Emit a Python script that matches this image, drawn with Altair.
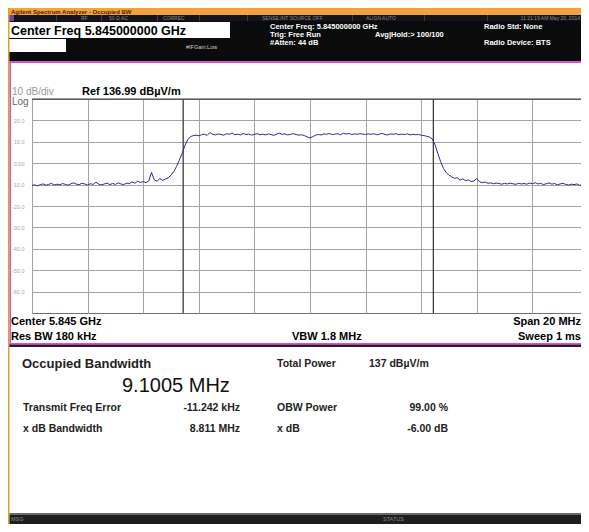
import altair as alt
import pandas as pd

# ---------------- data ----------------
CENTER_GHZ = 5.845
SPAN_MHZ = 20.0
STEP_MHZ = 0.1          # sweep points read every 0.1 MHz

# trace level (dB), 0.0 .. 20.0 MHz from the left edge
levels_db = [
    -10.4, -10.1, -10.6, -10.0, -9.7, -10.3, -9.9, -9.4, -10.2, -9.8,
    -10.1, -9.5, -9.9, -10.3, -9.6, -9.2, -9.8, -10.0, -9.4, -9.7,
    -10.2, -9.6, -9.9, -8.9, -9.8, -10.1, -9.7, -9.3, -10.0, -9.5,
    -9.9, -9.2, -9.7, -10.0, -9.3, -9.6, -8.7, -9.4, -8.4, -9.0,
    -8.6, -9.1, -8.3, -4.3, -7.8, -8.4, -7.2, -8.0, -7.4, -6.8,
    -5.6, -3.9, -1.5, 1.4, 4.6, 8.2, 10.9, 12.4, 12.9, 13.1,
    12.8, 13.3, 13.6, 13.0, 14.3, 13.5, 13.2, 13.7, 13.4, 13.1,
    13.8, 13.5, 14.1, 13.3, 13.6, 13.2, 13.9, 13.4, 13.6, 13.1,
    13.5, 13.8, 13.3, 13.6, 13.2, 13.7, 13.4, 13.0, 13.6, 14.0,
    13.5, 13.7, 13.2, 13.5, 13.8, 13.4, 13.1, 13.3, 12.9, 12.3,
    11.8, 12.4, 13.1, 13.4, 13.2, 13.7, 13.5, 13.9, 13.4, 13.6,
    13.8, 13.3, 14.0, 13.6, 13.9, 13.4, 13.7, 13.5, 13.8, 13.6,
    13.4, 13.7, 13.5, 13.8, 13.3, 13.6, 13.9, 13.4, 13.2, 13.7,
    13.5, 13.8, 13.3, 13.6, 13.4, 13.7, 13.2, 13.5, 13.3, 13.4,
    13.1, 12.9, 12.6, 12.2, 11.3, 8.6, 4.5, 0.8, -2.4, -4.3,
    -5.6, -6.4, -7.1, -6.8, -7.9, -7.3, -8.2, -7.8, -8.6, -8.3,
    -7.2, -8.7, -9.1, -8.8, -9.4, -9.2, -9.6, -9.3, -9.5, -9.8,
    -9.4, -9.7, -9.3, -9.6, -9.9, -9.4, -9.7, -9.5, -9.8, -9.3,
    -9.6, -9.1, -9.7, -9.4, -10.0, -9.6, -9.2, -9.8, -9.5, -10.1,
    -9.7, -9.4, -9.9, -10.2, -9.8, -10.0, -9.7, -10.3, -10.0, -10.5,
    -10.2,
]

x_domain_ghz = [5.835, 5.85475]
x_grid_ghz = [5.835, 5.837, 5.839, 5.841, 5.843, 5.845, 5.847, 5.849, 5.851, 5.853]
y_domain_db = [-70, 30]
y_grid_db = [20, 10, 0, -10, -20, -30, -40, -50, -60]
obw_markers_ghz = [5.8404385, 5.8494390]

title_text = "Agilent Spectrum Analyzer - Occupied BW"
status_texts = ["RF", "50 \u03a9   AC", "CORREC", "SENSE:INT   SOURCE OFF", "ALIGN AUTO"]
time_text = "11:21:19 AM May 20, 2014"
center_freq_box = "Center Freq 5.845000000 GHz"
info_left = ["Center Freq: 5.845000000 GHz", "Trig: Free Run", "#Atten: 44 dB"]
info_mid = "Avg|Hold:> 100/100"
info_right = ["Radio Std: None", "Radio Device: BTS"]
ifgain_text = "#IFGain:Low"
scale_texts = ["10 dB/div", "Log", "Ref 136.99 dB\u00b5V/m"]
bottom_left = ["Center  5.845 GHz", "Res BW  180 kHz"]
bottom_mid = "VBW  1.8 MHz"
bottom_right = ["Span 20 MHz", "Sweep  1 ms"]
result_title = "Occupied Bandwidth"
result_value = "9.1005 MHz"
result_rows = [
    ["Transmit Freq Error", "-11.242 kHz", "OBW Power", "99.00 %"],
    ["x dB Bandwidth", "8.811 MHz", "x dB", "-6.00 dB"],
]
total_power = ["Total Power", "137 dB\u00b5V/m"]
footer_texts = ["MSG", "STATUS"]

# ---------------- layout ----------------
W, H = 549, 214
PAD_L, PAD_T = 24, 91
TOTAL_W, TOTAL_H = 573, 516
FONT = "Liberation Sans"


def vx(px):  # page x -> view x
    return px - 32


def vy(py):  # page y -> view y
    return py - 99


dummy = pd.DataFrame({"k": [0]})


def box(x1, x2, y1, y2, color):
    return alt.Chart(dummy).mark_rect(color=color).encode(
        x=alt.value(vx(x1)), x2=alt.value(vx(x2)),
        y=alt.value(vy(y1)), y2=alt.value(vy(y2)))


def label(text, x, y, size, color="#000000", weight="normal", align="left"):
    return alt.Chart(pd.DataFrame({"t": [text]})).mark_text(
        align=align, baseline="middle", fontSize=size, fontWeight=weight,
        color=color, font=FONT).encode(
        x=alt.value(vx(x)), y=alt.value(vy(y)), text="t:N")


layers = []
# header
layers.append(box(8, 581, 8, 15, "#f3a33c"))
layers.append(label(title_text, 11, 11.5, 6, "#5a1c00", "bold"))
layers.append(box(8, 581, 15, 21, "#14141c"))
layers.append(box(8, 14, 15, 21, "#7d3f9e"))
for sx in [56, 101, 157, 199, 247, 352, 424, 487]:
    layers.append(box(sx, sx + 0.8, 15, 21, "#4a4a4a"))
for t, x in zip(status_texts, [81, 109, 163, 262, 366]):
    layers.append(label(t, x, 18, 5, "#8a8a8a"))
layers.append(label(time_text, 580, 18, 5, "#8a8a8a", align="right"))
layers.append(box(8, 581, 21, 61, "#0b0b0b"))
layers.append(box(8, 230, 22, 38, "#ffffff"))
layers.append(label(center_freq_box, 11, 30.5, 12.5, "#000000", "bold"))
layers.append(box(8, 66, 39, 52, "#ffffff"))
layers.append(label(ifgain_text, 186, 47, 5.5, "#cfcfcf"))
for t, y in zip(info_left, [27, 35, 43]):
    layers.append(label(t, 270, y, 7.5, "#ffffff", "bold"))
layers.append(label(info_mid, 375, 35, 7.5, "#ffffff", "bold"))
for t, y in zip(info_right, [27, 43]):
    layers.append(label(t, 484, y, 7.5, "#ffffff", "bold"))

# plot panel frame
layers.append(box(8, 581, 61, 63, "#d94fd9"))
layers.append(box(8, 9.5, 8, 524, "#d9a520"))
layers.append(box(9.5, 11, 61, 347, "#d94fd9"))
layers.append(box(9.5, 581, 343, 344.5, "#d94fd9"))
layers.append(box(9.5, 581, 344.5, 347, "#3c0f3c"))

# scale annotations
layers.append(label(scale_texts[0], 12, 92, 10, "#9a9a9a"))
layers.append(label(scale_texts[1], 12, 102, 10, "#666666"))
layers.append(label(scale_texts[2], 82, 92, 11, "#000000", "bold"))
for t, y in zip(bottom_left, [321.5, 336.5]):
    layers.append(label(t, 11, y, 11, "#000000", "bold"))
layers.append(label(bottom_mid, 292, 336.5, 11, "#000000", "bold"))
for t, y in zip(bottom_right, [321.5, 336.5]):
    layers.append(label(t, 581, y, 11, "#000000", "bold", "right"))

# results panel
layers.append(label(result_title, 22, 364, 13, "#222222", "bold"))
layers.append(label(result_value, 122, 386, 20, "#111111"))
layers.append(label(total_power[0], 277, 364, 10.5, "#222222", "bold"))
layers.append(label(total_power[1], 369, 364, 10.5, "#222222", "bold"))
for row, y in zip(result_rows, [408, 429]):
    layers.append(label(row[0], 23, y, 10.5, "#222222", "bold"))
    layers.append(label(row[1], 240, y, 10.5, "#222222", "bold", "right"))
    layers.append(label(row[2], 277, y, 10.5, "#222222", "bold"))
    layers.append(label(row[3], 448, y, 10.5, "#222222", "bold", "right"))

# footer bar
layers.append(box(9.5, 581, 513, 514.5, "#6a6a6a"))
layers.append(box(9.5, 581, 514.5, 524, "#1e1e1e"))
layers.append(label(footer_texts[0], 11, 519, 5.5, "#8a8a8a"))
layers.append(label(footer_texts[1], 383, 519, 5.5, "#8a8a8a"))

# ---------------- the trace ----------------
freqs_ghz = [CENTER_GHZ - SPAN_MHZ / 2000 + i * STEP_MHZ / 1000 for i in range(len(levels_db))]
trace = pd.DataFrame({"freq": freqs_ghz, "level": levels_db})

x_enc = alt.X("freq:Q", scale=alt.Scale(domain=x_domain_ghz, nice=False, zero=False),
              axis=alt.Axis(values=x_grid_ghz, labels=False, ticks=False, domain=False,
                            grid=True, gridColor="#a3a3a3", gridWidth=1, title=None))
y_enc = alt.Y("level:Q", scale=alt.Scale(domain=y_domain_db, nice=False, zero=False),
              axis=alt.Axis(values=y_grid_db, ticks=False, domain=False, grid=True,
                            gridColor="#a3a3a3", gridWidth=1, title=None,
                            labelExpr=("datum.value == 0 ? '0.00' : (datum.value < 0 ? "
                                       "'-' + format(-datum.value, '.1f') : format(datum.value, '.1f'))"),
                            labelFont=FONT, labelFontSize=5.5, labelColor="#a8a8a8",
                            labelPadding=8))

line = alt.Chart(trace).mark_line(color="#2c2c8e", strokeWidth=1, clip=True).encode(
    x=x_enc, y=y_enc)

markers = alt.Chart(pd.DataFrame({"freq": obw_markers_ghz})).mark_rule(
    color="#3c3c3c", strokeWidth=1.3).encode(x=alt.X("freq:Q"))

top_border = alt.Chart(dummy).mark_rule(color="#444444", strokeWidth=1.2).encode(
    x=alt.value(0), x2=alt.value(W), y=alt.value(0))

chart = alt.layer(*layers, markers, line, top_border).properties(
    width=W, height=H,
    padding={"left": PAD_L, "top": PAD_T, "right": TOTAL_W - PAD_L - W,
             "bottom": TOTAL_H - PAD_T - H},
    autosize=alt.AutoSizeParams(type="none"),
    background="#ffffff",
).configure_view(stroke="#707070", strokeWidth=1)

chart.save("out.html", embed_options={"renderer": "svg", "actions": False})
